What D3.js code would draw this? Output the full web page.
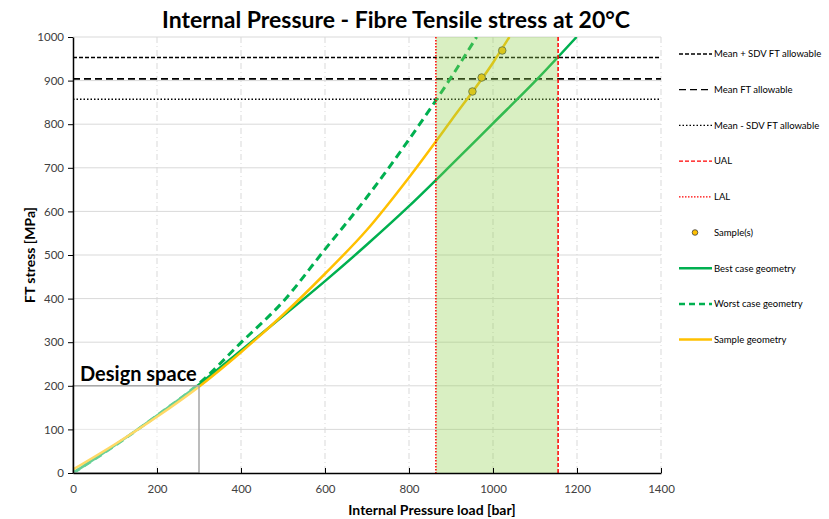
<!DOCTYPE html>
<html>
<head>
<meta charset="utf-8">
<script src="https://cdn.jsdelivr.net/npm/d3@7"></script>
<style>
  body { margin: 0; background: #fff; }
  svg { font-family: Lato, 'Open Sans', sans-serif; }
</style>
</head>
<body>
<svg id="chart" width="829" height="519"></svg>
<script>
const xTicks = [0, 200, 400, 600, 800, 1000, 1200, 1400];
const yTicks = [0, 100, 200, 300, 400, 500, 600, 700, 800, 900, 1000];

const allowables = [
  { label: 'Mean + SDV FT allowable', value: 953, dash: '4,2', width: 1.5 },
  { label: 'Mean FT allowable', value: 904, dash: '7,4', width: 1.8 },
  { label: 'Mean - SDV FT allowable', value: 857, dash: '1.5,2', width: 1.5 },
];
const limits = [
  { label: 'UAL', value: 1155, dash: '4,2' },
  { label: 'LAL', value: 864, dash: '1.5,1.5' },
];

const samplePressure = [951, 973, 1022];
const sampleStress = [875, 907, 969];

const bestPressure = [0, 100, 200, 300, 400, 500, 600, 700, 800, 900, 1000, 1100, 1199];
const bestStress = [0, 64, 132, 203, 281, 360, 440, 524, 612, 706, 802, 898, 1000];

const worstPressure = [0, 100, 200, 300, 400, 500, 600, 700, 800, 900, 961];
const worstStress = [0, 63, 132, 205, 299, 393, 513, 633, 765, 907, 1000];

const geomPressure = [0, 100, 200, 300, 400, 500, 600, 700, 800, 900, 1000, 1039];
const geomStress = [8, 66, 129, 198, 277, 363, 457, 558, 678, 808, 941, 1000];

const designSpace = { pressure: 300, stress: 200 };

const margin = { top: 37, left: 73, right: 168, bottom: 46 };
const svgWidth = 829;
const svgHeight = 519;
const green = '#00B050';
const yellow = '#FFC000';

const svg = d3.select('#chart');
const width = svgWidth - margin.left - margin.right;
const height = svgHeight - margin.top - margin.bottom;
const g = svg.append('g').attr('transform', `translate(${margin.left},${margin.top})`);

const x = d3.scaleLinear().domain([0, 1400]).range([0, width]);
const y = d3.scaleLinear().domain([0, 1000]).range([height, 0]);

const line = d3.line()
  .curve(d3.curveMonotoneX)
  .x(d => x(d[0]))
  .y(d => y(d[1]));

function zip(a, b) {
  return a.map((v, i) => [v, b[i]]);
}

svg.append('defs').append('clipPath')
    .attr('id', 'plot-clip')
  .append('rect')
    .attr('width', width)
    .attr('height', height);

// title
svg.append('text')
    .attr('x', 396)
    .attr('y', 28)
    .attr('text-anchor', 'middle')
    .attr('font-size', 23)
    .attr('font-weight', 'bold')
    .attr('fill', '#000')
    .text('Internal Pressure - Fibre Tensile stress at 20°C');

// gridlines
g.append('g')
  .selectAll('line')
  .data(yTicks.slice(1))
  .join('line')
    .attr('x1', 0)
    .attr('x2', width)
    .attr('y1', d => y(d))
    .attr('y2', d => y(d))
    .attr('stroke', '#D9D9D9')
    .attr('stroke-width', 1);

g.append('g')
  .selectAll('line')
  .data(xTicks.slice(1))
  .join('line')
    .attr('x1', d => x(d))
    .attr('x2', d => x(d))
    .attr('y1', 0)
    .attr('y2', height)
    .attr('stroke', '#D9D9D9')
    .attr('stroke-width', 1)
    .attr('stroke-dasharray', '6,3,1,3');

const plot = g.append('g').attr('clip-path', 'url(#plot-clip)');

// allowables
plot.append('g')
  .selectAll('line')
  .data(allowables)
  .join('line')
    .attr('x1', 0)
    .attr('x2', width)
    .attr('y1', d => y(d.value))
    .attr('y2', d => y(d.value))
    .attr('stroke', '#000')
    .attr('stroke-width', d => d.width)
    .attr('stroke-dasharray', d => d.dash);

// curves
plot.append('path')
    .datum(zip(bestPressure, bestStress))
    .attr('fill', 'none')
    .attr('stroke', green)
    .attr('stroke-width', 2.5)
    .attr('stroke-linejoin', 'round')
    .attr('d', line);

plot.append('path')
    .datum(zip(worstPressure, worstStress))
    .attr('fill', 'none')
    .attr('stroke', green)
    .attr('stroke-width', 3)
    .attr('stroke-dasharray', '8,5')
    .attr('d', line);

plot.append('path')
    .datum(zip(geomPressure, geomStress))
    .attr('fill', 'none')
    .attr('stroke', yellow)
    .attr('stroke-width', 2.5)
    .attr('stroke-linejoin', 'round')
    .attr('d', line);

plot.append('g')
  .selectAll('circle')
  .data(zip(samplePressure, sampleStress))
  .join('circle')
    .attr('cx', d => x(d[0]))
    .attr('cy', d => y(d[1]))
    .attr('r', 3.8)
    .attr('fill', yellow)
    .attr('stroke', '#404040')
    .attr('stroke-width', 0.8);

// acceptance window, drawn over the lines
const [lal, ual] = [limits[1].value, limits[0].value];
plot.append('rect')
    .attr('x', x(lal))
    .attr('y', 0)
    .attr('width', x(ual) - x(lal))
    .attr('height', height)
    .attr('fill', '#92D050')
    .attr('fill-opacity', 0.35);

plot.append('g')
  .selectAll('line')
  .data(limits)
  .join('line')
    .attr('x1', d => x(d.value))
    .attr('x2', d => x(d.value))
    .attr('y1', 0)
    .attr('y2', height)
    .attr('stroke', '#FF0000')
    .attr('stroke-width', 1.5)
    .attr('stroke-dasharray', d => d.dash);

// design space box
g.append('rect')
    .attr('x', x(0))
    .attr('y', y(designSpace.stress))
    .attr('width', x(designSpace.pressure) - x(0))
    .attr('height', y(0) - y(designSpace.stress))
    .attr('fill', '#fff')
    .attr('fill-opacity', 0.4)
    .attr('stroke', '#A6A6A6')
    .attr('stroke-width', 1.5);

g.append('text')
    .attr('x', 7)
    .attr('y', y(designSpace.stress) - 5)
    .attr('font-size', 20)
    .attr('font-weight', 'bold')
    .attr('fill', '#000')
    .text('Design space');

// axes
const xAxis = g.append('g')
    .attr('transform', `translate(0,${height})`)
    .call(d3.axisBottom(x).tickValues(xTicks).tickFormat(d3.format('d'))
      .tickSizeInner(-5).tickSizeOuter(0).tickPadding(12));

const yAxis = g.append('g')
    .call(d3.axisLeft(y).tickValues(yTicks).tickFormat(d3.format('d'))
      .tickSizeInner(5).tickSizeOuter(0).tickPadding(4));

[xAxis, yAxis].forEach(axis => {
  axis.select('.domain').attr('stroke', '#000').attr('stroke-width', 1.5);
  axis.selectAll('.tick line').attr('stroke', '#000');
  axis.selectAll('.tick text')
      .attr('font-family', 'Lato, sans-serif')
      .attr('font-size', 11.5)
      .attr('fill', '#404040');
});

svg.append('text')
    .attr('x', 432)
    .attr('y', 515)
    .attr('text-anchor', 'middle')
    .attr('font-size', 14)
    .attr('font-weight', 'bold')
    .text('Internal Pressure load [bar]');

svg.append('text')
    .attr('transform', `translate(35,${margin.top + height / 2}) rotate(-90)`)
    .attr('text-anchor', 'middle')
    .attr('font-size', 14)
    .attr('font-weight', 'bold')
    .text('FT stress [MPa]');

// legend
const legendItems = [
  ...allowables.map(d => ({ label: d.label, kind: 'line', stroke: '#000', dash: d.dash, width: 1.3 })),
  ...limits.map(d => ({ label: d.label, kind: 'line', stroke: '#FF0000', dash: d.dash, width: 1.3 })),
  { label: 'Sample(s)', kind: 'dot' },
  { label: 'Best case geometry', kind: 'line', stroke: green, dash: null, width: 2.5 },
  { label: 'Worst case geometry', kind: 'line', stroke: green, dash: '6,4', width: 2.5 },
  { label: 'Sample geometry', kind: 'line', stroke: yellow, dash: null, width: 2.5 },
];

const legend = svg.append('g')
  .selectAll('g')
  .data(legendItems)
  .join('g')
    .attr('transform', (d, i) => `translate(679,${54 + i * 35.7})`);

legend.filter(d => d.kind === 'line')
  .append('line')
    .attr('x1', 0)
    .attr('x2', 33)
    .attr('stroke', d => d.stroke)
    .attr('stroke-width', d => d.width)
    .attr('stroke-dasharray', d => d.dash);

legend.filter(d => d.kind === 'dot')
  .append('circle')
    .attr('cx', 16)
    .attr('r', 2.8)
    .attr('fill', yellow)
    .attr('stroke', '#404040')
    .attr('stroke-width', 0.8);

legend.append('text')
    .attr('x', 35)
    .attr('dy', '0.35em')
    .attr('font-size', 9.5)
    .attr('fill', '#000')
    .text(d => d.label);
</script>
</body>
</html>
